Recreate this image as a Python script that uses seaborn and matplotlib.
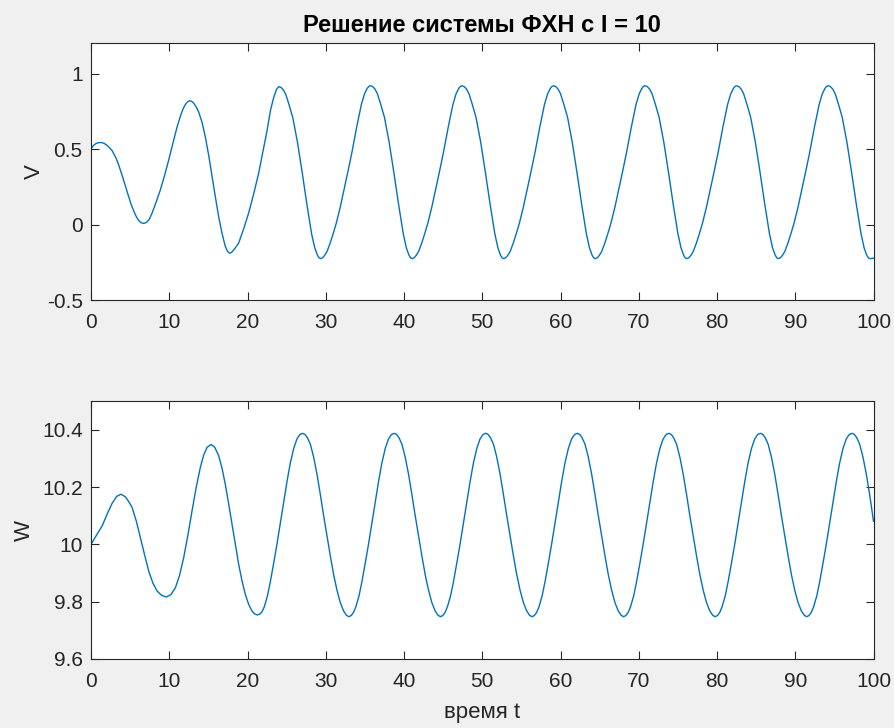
import matplotlib
matplotlib.use("Agg")
import matplotlib.pyplot as plt
import seaborn as sns
import pandas as pd

# ---- data ----
t_v = [0, 0.3, 0.6, 0.95, 1.33, 1.7, 2.1, 2.69, 3.2, 3.54, 4.1, 4.61, 5.15, 5.67, 6.0, 6.35, 6.73, 7.1, 7.45, 7.8,
       8.3, 8.86, 9.4, 9.93, 10.45, 11.0, 11.5, 11.8, 12.06, 12.35, 12.6, 12.85, 13.15, 13.45, 13.76, 14.2, 14.61,
       15.05, 15.47, 15.9, 16.31, 16.75, 17.16, 17.45, 17.7, 17.95, 18.3, 18.87, 19.5, 20.14, 20.8, 21.42, 22.0,
       22.49, 22.95, 23.34, 23.7, 24.0,
       24.3, 24.6, 24.9, 25.3, 25.8, 26.4, 27.0, 27.6, 28.2, 28.6, 28.95, 29.15, 29.35,
       29.6, 29.85, 30.15, 30.55, 30.95, 31.35, 31.85, 32.35, 32.85, 33.35, 33.95, 34.55, 34.95, 35.3, 35.5, 35.7,
       36.0, 36.3, 36.6, 37.0, 37.5, 38.1, 38.7, 39.3, 39.9, 40.3, 40.65, 40.85, 41.05,
       41.3, 41.55, 41.85, 42.25, 42.65, 43.05, 43.55, 44.05, 44.55, 45.05, 45.65, 46.25, 46.65, 47.0, 47.2, 47.4,
       47.7, 48.0, 48.3, 48.7, 49.2, 49.8, 50.4, 51.0, 51.6, 52.0, 52.35, 52.55, 52.75,
       53.0, 53.25, 53.55, 53.95, 54.35, 54.75, 55.25, 55.75, 56.25, 56.75, 57.35, 57.95, 58.35, 58.7, 58.9, 59.1,
       59.4, 59.7, 60.0, 60.4, 60.9, 61.5, 62.1, 62.7, 63.3, 63.7, 64.05, 64.25, 64.45,
       64.7, 64.95, 65.25, 65.65, 66.05, 66.45, 66.95, 67.45, 67.95, 68.45, 69.05, 69.65, 70.05, 70.4, 70.6, 70.8,
       71.1, 71.4, 71.7, 72.1, 72.6, 73.2, 73.8, 74.4, 75.0, 75.4, 75.75, 75.95, 76.15,
       76.4, 76.65, 76.95, 77.35, 77.75, 78.15, 78.65, 79.15, 79.65, 80.15, 80.75, 81.35, 81.75, 82.1, 82.3, 82.5,
       82.8, 83.1, 83.4, 83.8, 84.3, 84.9, 85.5, 86.1, 86.7, 87.1, 87.45, 87.65, 87.85,
       88.1, 88.35, 88.65, 89.05, 89.45, 89.85, 90.35, 90.85, 91.35, 91.85, 92.45, 93.05, 93.45, 93.8, 94.0, 94.2,
       94.5, 94.8, 95.1, 95.5, 96.0, 96.6, 97.2, 97.8, 98.4, 98.8, 99.15, 99.35, 99.55, 99.8, 100.0]
v_vals = [0.5, 0.523, 0.535, 0.542, 0.543, 0.537, 0.522, 0.49, 0.44, 0.394, 0.305, 0.218, 0.13, 0.064, 0.033, 0.013, 0.007, 0.014, 0.035, 0.075,
          0.145, 0.229, 0.325, 0.427, 0.535, 0.646, 0.73, 0.77, 0.795, 0.813, 0.82, 0.816, 0.802, 0.778, 0.745, 0.675, 0.58,
          0.455, 0.317, 0.18, 0.053, -0.06, -0.145, -0.178, -0.19, -0.185, -0.165, -0.123, -0.03, 0.075, 0.205, 0.339, 0.49,
          0.62, 0.76, 0.84, 0.895, 0.913,
          0.907, 0.89, 0.86, 0.795, 0.705, 0.54, 0.34, 0.13, -0.065, -0.155, -0.205, -0.221, -0.226,
          -0.22, -0.205, -0.18, -0.125, -0.06, 0.01, 0.115, 0.235, 0.355, 0.48, 0.645, 0.795, 0.865, 0.902, 0.914, 0.919,
          0.913, 0.896, 0.866, 0.80, 0.71, 0.545, 0.345, 0.135, -0.06, -0.155, -0.205, -0.221, -0.226,
          -0.22, -0.205, -0.18, -0.125, -0.06, 0.01, 0.115, 0.235, 0.355, 0.48, 0.645, 0.795, 0.865, 0.902, 0.914, 0.919,
          0.913, 0.896, 0.866, 0.80, 0.71, 0.545, 0.345, 0.135, -0.06, -0.155, -0.205, -0.221, -0.226,
          -0.22, -0.205, -0.18, -0.125, -0.06, 0.01, 0.115, 0.235, 0.355, 0.48, 0.645, 0.795, 0.865, 0.902, 0.914, 0.919,
          0.913, 0.896, 0.866, 0.80, 0.71, 0.545, 0.345, 0.135, -0.06, -0.155, -0.205, -0.221, -0.226,
          -0.22, -0.205, -0.18, -0.125, -0.06, 0.01, 0.115, 0.235, 0.355, 0.48, 0.645, 0.795, 0.865, 0.902, 0.914, 0.919,
          0.913, 0.896, 0.866, 0.80, 0.71, 0.545, 0.345, 0.135, -0.06, -0.155, -0.205, -0.221, -0.226,
          -0.22, -0.205, -0.18, -0.125, -0.06, 0.01, 0.115, 0.235, 0.355, 0.48, 0.645, 0.795, 0.865, 0.902, 0.914, 0.919,
          0.913, 0.896, 0.866, 0.80, 0.71, 0.545, 0.345, 0.135, -0.06, -0.155, -0.205, -0.221, -0.226,
          -0.22, -0.205, -0.18, -0.125, -0.06, 0.01, 0.115, 0.235, 0.355, 0.48, 0.645, 0.795, 0.865, 0.902, 0.914, 0.919,
          0.913, 0.896, 0.866, 0.80, 0.71, 0.545, 0.345, 0.135, -0.06, -0.155, -0.205, -0.221, -0.226, -0.225, -0.222]

t_w = [0, 0.7, 1.42, 2.05, 2.69, 3.3, 3.84, 4.4, 4.85, 5.25, 5.8, 6.31, 6.85, 7.37, 7.9, 8.44, 9.0, 9.63, 10.2, 10.78,
       11.3, 11.84, 12.4, 12.91, 13.45, 13.97, 14.4, 14.83, 15.34, 15.8, 16.31, 16.75, 17.16, 17.6, 18.02, 18.45, 18.87,
       19.3, 19.72, 20.15, 20.57, 20.9, 21.25,
       21.55, 21.85, 22.15, 22.55, 22.91, 23.35, 23.76, 24.2, 24.61, 25.05, 25.46, 25.9, 26.31, 26.7, 27.05,
       27.35, 27.65, 28.03, 28.45, 28.88, 29.3, 29.73, 30.15, 30.58, 31.0, 31.43, 31.85, 32.28, 32.65, 32.95,
       33.25, 33.55, 33.85, 34.25, 34.61, 35.05, 35.46, 35.9, 36.31, 36.75, 37.16, 37.6, 38.01, 38.4, 38.75,
       39.05, 39.35, 39.73, 40.15, 40.58, 41.0, 41.43, 41.85, 42.28, 42.7, 43.13, 43.55, 43.98, 44.35, 44.65,
       44.95, 45.25, 45.55, 45.95, 46.31, 46.75, 47.16, 47.6, 48.01, 48.45, 48.86, 49.3, 49.71, 50.1, 50.45,
       50.75, 51.05, 51.43, 51.85, 52.28, 52.7, 53.13, 53.55, 53.98, 54.4, 54.83, 55.25, 55.68, 56.05, 56.35,
       56.65, 56.95, 57.25, 57.65, 58.01, 58.45, 58.86, 59.3, 59.71, 60.15, 60.56, 61.0, 61.41, 61.8, 62.15,
       62.45, 62.75, 63.13, 63.55, 63.98, 64.4, 64.83, 65.25, 65.68, 66.1, 66.53, 66.95, 67.38, 67.75, 68.05,
       68.35, 68.65, 68.95, 69.35, 69.71, 70.15, 70.56, 71.0, 71.41, 71.85, 72.26, 72.7, 73.11, 73.5, 73.85,
       74.15, 74.45, 74.83, 75.25, 75.68, 76.1, 76.53, 76.95, 77.38, 77.8, 78.23, 78.65, 79.08, 79.45, 79.75,
       80.05, 80.35, 80.65, 81.05, 81.41, 81.85, 82.26, 82.7, 83.11, 83.55, 83.96, 84.4, 84.81, 85.2, 85.55,
       85.85, 86.15, 86.53, 86.95, 87.38, 87.8, 88.23, 88.65, 89.08, 89.5, 89.93, 90.35, 90.78, 91.15, 91.45,
       91.75, 92.05, 92.35, 92.75, 93.11, 93.55, 93.96, 94.4, 94.81, 95.25, 95.66, 96.1, 96.51, 96.9, 97.25,
       97.55, 97.85, 98.23, 98.65, 99.08, 99.5, 100.0]
w_vals = [10.0, 10.032, 10.064, 10.105, 10.143, 10.168, 10.175, 10.166, 10.148, 10.129, 10.08, 10.023, 9.963, 9.907, 9.865, 9.837, 9.822, 9.816, 9.824, 9.848,
          9.89, 9.953, 10.035, 10.117, 10.2, 10.269, 10.312, 10.339, 10.349, 10.34, 10.31, 10.265, 10.21, 10.14, 10.07, 10.0, 9.93,
          9.872, 9.825, 9.79, 9.767, 9.757, 9.753,
          9.756, 9.764, 9.782, 9.82, 9.868, 9.935, 10.0, 10.075, 10.147, 10.22, 10.283, 10.335, 10.368, 10.384, 10.388,
          10.384, 10.373, 10.35, 10.305, 10.245, 10.175, 10.10, 10.03, 9.96, 9.895, 9.84, 9.797, 9.767, 9.752, 9.747,
          9.751, 9.762, 9.782, 9.82, 9.868, 9.935, 10.0, 10.075, 10.147, 10.22, 10.283, 10.335, 10.368, 10.384, 10.388,
          10.384, 10.373, 10.35, 10.305, 10.245, 10.175, 10.10, 10.03, 9.96, 9.895, 9.84, 9.797, 9.767, 9.752, 9.747,
          9.751, 9.762, 9.782, 9.82, 9.868, 9.935, 10.0, 10.075, 10.147, 10.22, 10.283, 10.335, 10.368, 10.384, 10.388,
          10.384, 10.373, 10.35, 10.305, 10.245, 10.175, 10.10, 10.03, 9.96, 9.895, 9.84, 9.797, 9.767, 9.752, 9.747,
          9.751, 9.762, 9.782, 9.82, 9.868, 9.935, 10.0, 10.075, 10.147, 10.22, 10.283, 10.335, 10.368, 10.384, 10.388,
          10.384, 10.373, 10.35, 10.305, 10.245, 10.175, 10.10, 10.03, 9.96, 9.895, 9.84, 9.797, 9.767, 9.752, 9.747,
          9.751, 9.762, 9.782, 9.82, 9.868, 9.935, 10.0, 10.075, 10.147, 10.22, 10.283, 10.335, 10.368, 10.384, 10.388,
          10.384, 10.373, 10.35, 10.305, 10.245, 10.175, 10.10, 10.03, 9.96, 9.895, 9.84, 9.797, 9.767, 9.752, 9.747,
          9.751, 9.762, 9.782, 9.82, 9.868, 9.935, 10.0, 10.075, 10.147, 10.22, 10.283, 10.335, 10.368, 10.384, 10.388,
          10.384, 10.373, 10.35, 10.305, 10.245, 10.175, 10.10, 10.03, 9.96, 9.895, 9.84, 9.797, 9.767, 9.752, 9.747,
          9.751, 9.762, 9.782, 9.82, 9.868, 9.935, 10.0, 10.075, 10.147, 10.22, 10.283, 10.335, 10.368, 10.384, 10.388,
          10.384, 10.373, 10.35, 10.305, 10.245, 10.175, 10.08]

x_ticks = [0, 10, 20, 30, 40, 50, 60, 70, 80, 90, 100]
v_ticks = [-0.5, 0, 0.5, 1]
v_tick_labels = ["-0.5", "0", "0.5", "1"]
w_ticks = [9.6, 9.8, 10.0, 10.2, 10.4]
w_tick_labels = ["9.6", "9.8", "10", "10.2", "10.4"]

title_text = "Решение системы ФХН с I = 10"
xlabel_text = "время t"

# ---- style ----
sns.set_style("ticks")
plt.rcParams["font.family"] = ["Liberation Sans", "DejaVu Sans"]
plt.rcParams["axes.unicode_minus"] = False

BG = "#f0f0f0"
DARK = "#262626"
LINE = "#0072BD"

fig = plt.figure(figsize=(8.94, 7.28), dpi=100, facecolor=BG)
ax1 = fig.add_axes([0.1018, 0.5879, 0.8753, 0.3526])
ax2 = fig.add_axes([0.1018, 0.0951, 0.8753, 0.3537])

df_v = pd.DataFrame({"t": t_v, "V": v_vals})
df_w = pd.DataFrame({"t": t_w, "W": w_vals})

sns.lineplot(data=df_v, x="t", y="V", ax=ax1, color=LINE, linewidth=1.0, estimator=None, sort=False)
sns.lineplot(data=df_w, x="t", y="W", ax=ax2, color=LINE, linewidth=1.0, estimator=None, sort=False)
for ax in (ax1, ax2):
    for ln in ax.get_lines():
        ln.set_solid_joinstyle("round")

ax1.set_ylim(-0.5, 1.2)
ax2.set_ylim(9.6, 10.5)
ax1.set_yticks(v_ticks)
ax1.set_yticklabels(v_tick_labels)
ax2.set_yticks(w_ticks)
ax2.set_yticklabels(w_tick_labels)

for ax in (ax1, ax2):
    ax.set_facecolor("white")
    ax.set_xlim(0, 100)
    ax.set_xticks(x_ticks)
    ax.set_xticklabels([str(x) for x in x_ticks])
    ax.tick_params(direction="in", top=True, right=True, length=6, width=0.8,
                   color=DARK, labelcolor=DARK, labelsize=15, pad=6)
    ax.tick_params(axis="x", pad=9.5)
    for s in ax.spines.values():
        s.set_visible(True)
        s.set_color(DARK)
        s.set_linewidth(0.8)

ax1.set_xlabel("")
ax1.set_ylabel("V", fontsize=16, color=DARK, labelpad=1.5)
ax2.set_ylabel("W", fontsize=16, color=DARK, labelpad=5)
ax2.set_xlabel(xlabel_text, fontsize=16, color=DARK, labelpad=8)
ax1.set_title(title_text, fontsize=17, fontweight="bold", color="black", pad=8)

fig.savefig("out.png", dpi=100, facecolor=BG)
